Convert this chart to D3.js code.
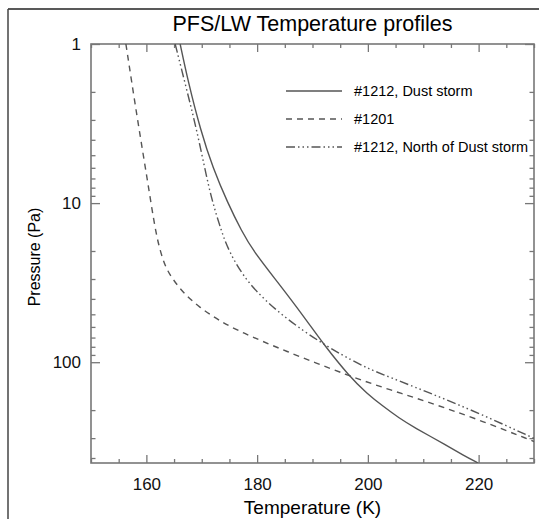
<!DOCTYPE html>
<html>
<head>
<meta charset="utf-8">
<script src="https://cdn.jsdelivr.net/npm/d3@7"></script>
<style>
  body { margin: 0; background: #fff; }
  svg { display: block; font-family: "Liberation Sans", Arial, Helvetica, sans-serif; }
</style>
</head>
<body>
<svg></svg>
<script>
// temperature (K) / pressure (Pa)
const dustT  = [166.1, 167.5, 169.8, 172.0, 174.7, 177.2, 179.3, 183.9, 188.5, 192.1, 196.6, 199.8, 202.8, 205.7, 208.2, 214.2, 217.2, 219.9];
const dustP  = [1, 1.7, 3.5, 6, 10, 15, 20, 32, 52, 78, 122, 157, 190, 225, 255, 333, 384, 430];

const p1201T = [156.3, 158.4, 160.2, 161.6, 162.5, 163.4, 164.7, 166.8, 169.5, 173.2, 177.2, 184.7, 196.6, 204.2, 210.5, 219.8, 230];
const p1201P = [1, 3, 7.2, 14.8, 20, 25, 30, 37, 45, 55, 65, 84, 122, 150, 176, 228, 315];

const northT = [165.2, 167.3, 169.1, 171.0, 172.0, 173.5, 174.8, 178.2, 184.7, 192.1, 198.6, 202.0, 210.6, 220.2, 230];
const northP = [1, 1.95, 3.47, 7.2, 10, 14.8, 19.8, 32, 52, 78, 104, 117, 153, 210, 301];

const seriesNames = ["#1212, Dust storm", "#1201", "#1212, North of Dust storm"];
const xMajor = [160, 180, 200, 220];
const yMajor = [1, 10, 100];

const width = 539;
const height = 519;
const svg = d3.select("svg")
    .attr("width", width)
    .attr("height", height);

const plot = { left: 91, right: 534, top: 44, bottom: 463 };

const x = d3.scaleLinear().domain([150, 230]).range([plot.left, plot.right]);
const y = d3.scaleLog().domain([1, 430]).range([plot.top, plot.bottom]);

// outer frame (top and left only, as in the scan)
svg.append("line").attr("x1", 8).attr("x2", width).attr("y1", 9).attr("y2", 9)
    .attr("stroke", "#222").attr("stroke-width", 1.5);
svg.append("line").attr("x1", 8).attr("x2", 8).attr("y1", 9).attr("y2", height)
    .attr("stroke", "#444").attr("stroke-width", 1.5);

svg.append("text")
    .attr("x", (plot.left + plot.right) / 2)
    .attr("y", 31)
    .attr("text-anchor", "middle")
    .style("font-size", "21.5px")
    .text("PFS/LW Temperature profiles");

const xMinor = d3.range(150, 231, 5).filter(v => !xMajor.includes(v));
const yMinor = [];
[1, 10, 100].forEach(d => d3.range(2, 10).forEach(k => { if (d * k <= 430) yMinor.push(d * k); }));

const axisColor = "#777";
function styleAxis(g) {
    g.select(".domain").remove();
    g.selectAll(".tick line").attr("stroke", axisColor).attr("stroke-width", 1.3);
    g.selectAll(".tick text").attr("fill", "#111");
}

// bottom
svg.append("g").attr("transform", `translate(0,${plot.bottom})`)
    .call(d3.axisBottom(x).tickValues(xMajor).tickSizeInner(-8).tickSizeOuter(0).tickPadding(15))
    .call(styleAxis)
    .call(g => g.selectAll("text").style("font-size", "17px").style("font-family", "inherit"));
svg.append("g").attr("transform", `translate(0,${plot.bottom})`)
    .call(d3.axisBottom(x).tickValues(xMinor).tickSizeInner(-4).tickSizeOuter(0).tickFormat(""))
    .call(styleAxis);
// top
svg.append("g").attr("transform", `translate(0,${plot.top})`)
    .call(d3.axisTop(x).tickValues(xMajor).tickSizeInner(-8).tickSizeOuter(0).tickFormat(""))
    .call(styleAxis);
svg.append("g").attr("transform", `translate(0,${plot.top})`)
    .call(d3.axisTop(x).tickValues(xMinor).tickSizeInner(-4).tickSizeOuter(0).tickFormat(""))
    .call(styleAxis);
// left
svg.append("g").attr("transform", `translate(${plot.left},0)`)
    .call(d3.axisLeft(y).tickValues(yMajor).tickSizeInner(-9).tickSizeOuter(0).tickPadding(10).tickFormat(d3.format("d")))
    .call(styleAxis)
    .call(g => g.selectAll("text").style("font-size", "17px").style("font-family", "inherit"));
svg.append("g").attr("transform", `translate(${plot.left},0)`)
    .call(d3.axisLeft(y).tickValues(yMinor).tickSizeInner(-4.5).tickSizeOuter(0).tickFormat(""))
    .call(styleAxis);
// right
svg.append("g").attr("transform", `translate(${plot.right},0)`)
    .call(d3.axisRight(y).tickValues(yMajor).tickSizeInner(-9).tickSizeOuter(0).tickFormat(""))
    .call(styleAxis);
svg.append("g").attr("transform", `translate(${plot.right},0)`)
    .call(d3.axisRight(y).tickValues(yMinor).tickSizeInner(-4.5).tickSizeOuter(0).tickFormat(""))
    .call(styleAxis);

svg.append("rect")
    .attr("x", plot.left).attr("y", plot.top)
    .attr("width", plot.right - plot.left).attr("height", plot.bottom - plot.top)
    .attr("fill", "none").attr("stroke", axisColor).attr("stroke-width", 1.6);

svg.append("text")
    .attr("x", (plot.left + plot.right) / 2)
    .attr("y", 514)
    .attr("text-anchor", "middle")
    .style("font-size", "19px")
    .text("Temperature (K)");

svg.append("text")
    .attr("transform", "translate(40,257) rotate(-90)")
    .attr("text-anchor", "middle")
    .style("font-size", "16px")
    .text("Pressure (Pa)");

// curves
svg.append("clipPath").attr("id", "clip")
    .append("rect")
    .attr("x", plot.left).attr("y", plot.top)
    .attr("width", plot.right - plot.left).attr("height", plot.bottom - plot.top);

const dashes = ["none", "6,5", "9,3,1.5,3,1.5,3,1.5,3"];
const series = [
    dustT.map((t, i) => [t, dustP[i]]),
    p1201T.map((t, i) => [t, p1201P[i]]),
    northT.map((t, i) => [t, northP[i]])
];

const line = d3.line()
    .x(d => x(d[0]))
    .y(d => y(d[1]))
    .curve(d3.curveBasis);

svg.append("g").attr("clip-path", "url(#clip)")
    .selectAll("path")
    .data(series)
    .enter().append("path")
    .attr("d", line)
    .attr("fill", "none")
    .attr("stroke", "#555")
    .attr("stroke-width", 1.4)
    .attr("stroke-dasharray", (d, i) => dashes[i]);

// legend
const legend = svg.append("g");
const rows = legend.selectAll("g")
    .data(seriesNames)
    .enter().append("g")
    .attr("transform", (d, i) => `translate(0,${91 + i * 28})`);
rows.append("line")
    .attr("x1", 286).attr("x2", 342)
    .attr("stroke", "#555").attr("stroke-width", 1.4)
    .attr("stroke-dasharray", (d, i) => dashes[i]);
rows.append("text")
    .attr("x", 354).attr("y", 5)
    .style("font-size", "14.5px")
    .text(d => d);
</script>
</body>
</html>
